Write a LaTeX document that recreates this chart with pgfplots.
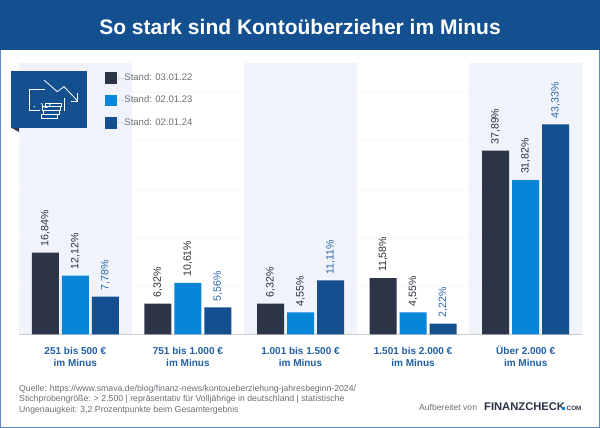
\documentclass[border=0pt]{standalone}
\usepackage{pgfplots}
\pgfplotsset{compat=1.18}
\usepackage{fontspec}
\setmainfont{Liberation Sans}
\definecolor{header}{HTML}{14508F}
\definecolor{frame}{HTML}{5B88BD}
\definecolor{band}{HTML}{F0F3F9}
\definecolor{gridc}{HTML}{F5F6FA}
\definecolor{cdark}{HTML}{2C3547}
\definecolor{cmid}{HTML}{0785D6}
\definecolor{cblue}{HTML}{14508F}
\definecolor{graytxt}{HTML}{6B6F76}
\definecolor{lbl}{HTML}{2B2F36}
\definecolor{lblblue}{HTML}{2767AC}
\begin{document}
\begin{tikzpicture}[x=1pt,y=1pt]
\path[use as bounding box] (0,0) rectangle (600,428);
\fill[white] (0,0) rectangle (600,428);
% page frame and header
\fill[frame] (0,0) rectangle (1,428);
\fill[frame] (599,0) rectangle (600,428);
\fill[frame] (0,0) rectangle (600,1);
\fill[header] (0,377.5) rectangle (600,428);
\node[text=white,font=\fontsize{21}{24}\selectfont\bfseries,anchor=center] at (300,401) {So stark sind Kontoüberzieher im Minus};
% column bands
\foreach \i in {0,2,4} {
  \fill[band] ({19+112.6*\i},93.7) rectangle ({19+112.6*(\i+1)},365);
}
% grid lines across bands, lighter than the band and darker than white
\begin{axis}[
  at={(19pt,93.7pt)}, anchor=south west,
  scale only axis, width=563pt, height=271.3pt,
  xmin=-0.5, xmax=4.5, ymin=0, ymax=56,
  clip=false,
  separate axis lines,
  axis x line*=bottom,
  y axis line style={draw=none},
  x axis line style={draw=black!20!white, line width=1pt, -},
  xtick=data,
  xticklabels={\vphantom{Ü}251 bis 500 €\\im Minus,\vphantom{Ü}751 bis 1.000 €\\im Minus,\vphantom{Ü}1.001 bis 1.500 €\\im Minus,\vphantom{Ü}1.501 bis 2.000 €\\im Minus,Über 2.000 €\\im Minus},
  xticklabel style={align=center, text=lblblue!70!cblue, font=\fontsize{10}{12.3}\selectfont\bfseries, yshift=-8pt},
  major tick length=0pt,
  ytick={10,20,30,40,50}, yticklabels={},
  ymajorgrids, grid style={gridc, line width=0.8pt},
  ybar=3pt, bar width=27pt,
  /pgf/number format/assume math mode=true,
  /pgf/number format/.cd, fixed, fixed zerofill, precision=2, use comma, 1000 sep={},
  /pgfplots/.cd,
  nodes near coords={\pgfmathprintnumber{\pgfplotspointmeta}\%},
  every node near coord/.append style={rotate=90, anchor=west, inner xsep=6pt, inner ysep=0pt, font=\fontsize{10.6}{12}\selectfont},
  legend style={at={(0.1474,0.9735)}, anchor=north west, draw=none, fill=none,
    font=\fontsize{9.5}{12}\selectfont, text=graytxt, row sep=10.7pt,
    nodes={inner sep=0pt, text height=7pt, text depth=2pt, anchor=west}},
  legend cell align=left,
  legend image code/.code={\fill[#1] (0pt,-5.8pt) rectangle (11.6pt,5.8pt); \path (0pt,0pt) -- (19.3pt,0pt);},
]
\addplot[fill=cdark, draw=none, every node near coord/.append style={text=lbl}] coordinates {(0,16.84)(1,6.32)(2,6.32)(3,11.58)(4,37.89)};
\addplot[fill=cmid, draw=none, every node near coord/.append style={text=lbl}] coordinates {(0,12.12)(1,10.61)(2,4.55)(3,4.55)(4,31.82)};
\addplot[fill=cblue, draw=none, every node near coord/.append style={text=lblblue}] coordinates {(0,7.78)(1,5.56)(2,11.11)(3,2.22)(4,43.33)};
\legend{Stand: 03.01.22,Stand: 02.01.23,Stand: 02.01.24}
\end{axis}
% icon flag
\fill[cdark] (11,300.5) -- (19,300.5) -- (19,296) -- cycle;
\fill[header] (10.7,300.3) rectangle (87,357);
\begin{scope}[draw=white, line width=0.8pt, shift={(0,378)}, y=-1pt, line join=miter]
  \draw (44,30) -- (57.3,41.7) -- (64,36.7) -- (77.7,51);
  \draw (77.7,43.5) -- (77.7,51) -- (70.5,51);
  \draw (45.3,39.3) -- (29.3,39.3) -- (29.3,60) -- (40,60);
  \fill[white] (34.3,56.7) circle (0.7);
  \draw (41.5,53) arc[start angle=180, end angle=0, radius=4.6];
  \draw (64,48) -- (64,61);
  \draw (45,53) rectangle (61,56.5);
  \draw (42,56.5) rectangle (60,60.5);
  \draw (43.5,60.5) rectangle (59.5,64.5);
  \draw (41,64.5) rectangle (57.5,68);
\end{scope}
% source
\node[anchor=base west, text=graytxt, font=\fontsize{8.7}{10.6}\selectfont, align=left, inner sep=0pt] at (19,36.5) {Quelle: https://www.smava.de/blog/finanz-news/kontoueberziehung-jahresbeginn-2024/};
\node[anchor=base west, text=graytxt, font=\fontsize{8.7}{10.6}\selectfont, inner sep=0pt] at (19,26) {Stichprobengröße: > 2.500 | repräsentativ für Volljährige in deutschland | statistische};
\node[anchor=base west, text=graytxt, font=\fontsize{8.7}{10.6}\selectfont, inner sep=0pt] at (19,15.5) {Ungenauigkeit: 3,2 Prozentpunkte beim Gesamtergebnis};
% credit
\node[anchor=base west, text=graytxt, font=\fontsize{8.6}{10}\selectfont, inner sep=0pt] at (419,17) {Aufbereitet von};
\node[anchor=base west, text=cdark, font=\fontsize{11.2}{12}\selectfont\bfseries, inner sep=0pt] at (484,17.5) {FINANZCHECK};
\fill[cmid] (562,17.5) rectangle (565,20.5);
\node[anchor=base west, text=cdark, font=\fontsize{6.3}{8}\selectfont\bfseries, inner sep=0pt] at (566.5,17.5) {COM};
\end{tikzpicture}
\end{document}
